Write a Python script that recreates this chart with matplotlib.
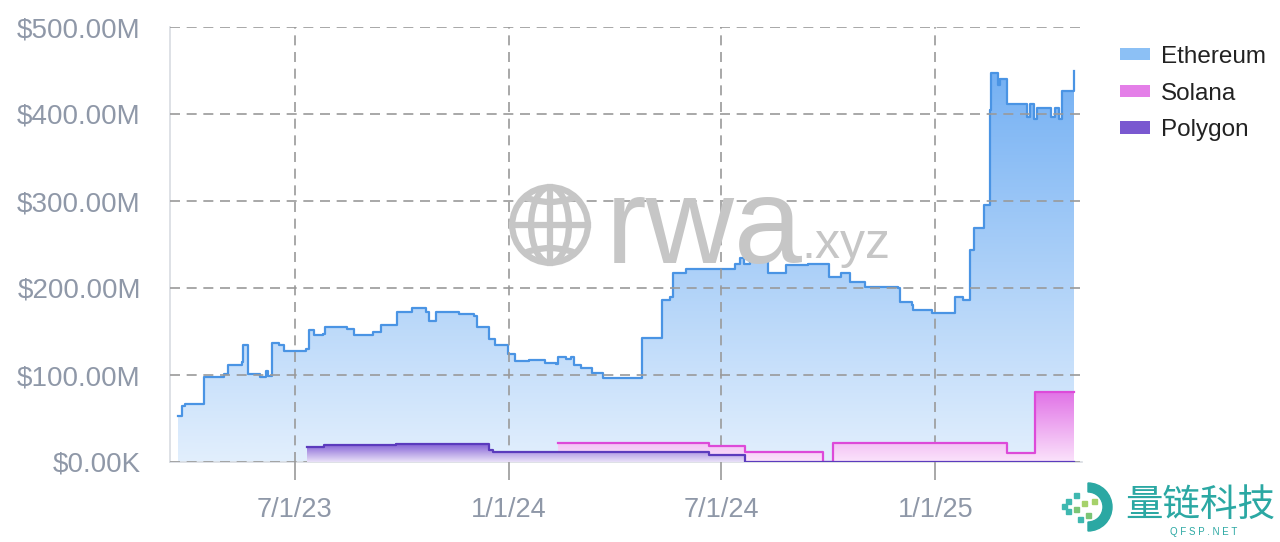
import numpy as np
import pandas as pd
import matplotlib
matplotlib.use("Agg")
import matplotlib.pyplot as plt
import matplotlib.dates as mdates
from matplotlib.patches import PathPatch, Patch, Circle, Ellipse, Wedge, Rectangle
from matplotlib.colors import to_rgba

# ---- data (USD millions, step series) ----
eth_dates = ["2023-03-23", "2023-03-26", "2023-03-29", "2023-04-14", "2023-05-01", "2023-05-05",
             "2023-05-17", "2023-05-18", "2023-05-22", "2023-06-01", "2023-06-06", "2023-06-08",
             "2023-06-12", "2023-06-18", "2023-06-22", "2023-07-11", "2023-07-13", "2023-07-18",
             "2023-07-25", "2023-07-27", "2023-08-15", "2023-08-21", "2023-09-06", "2023-09-13",
             "2023-09-25", "2023-09-27", "2023-10-10", "2023-10-22", "2023-10-24", "2023-10-30",
             "2023-11-19", "2023-12-02", "2023-12-05", "2023-12-15", "2023-12-20", "2023-12-29",
             "2023-12-31", "2024-01-06", "2024-01-18", "2024-02-01", "2024-02-10", "2024-02-12",
             "2024-02-19", "2024-02-23", "2024-02-26", "2024-03-03", "2024-03-12", "2024-03-22",
             "2024-04-24", "2024-05-11", "2024-05-18", "2024-05-21", "2024-06-01", "2024-07-13",
             "2024-07-17", "2024-07-21", "2024-07-26", "2024-08-10", "2024-08-26", "2024-09-14",
             "2024-10-02", "2024-10-12", "2024-10-20", "2024-11-02", "2024-11-30", "2024-12-02",
             "2024-12-12", "2024-12-13", "2024-12-29", "2025-01-18", "2025-01-25", "2025-01-31",
             "2025-02-03", "2025-02-12", "2025-02-17", "2025-02-18", "2025-02-24", "2025-02-26",
             "2025-03-04", "2025-03-21", "2025-03-23", "2025-03-27", "2025-03-29", "2025-04-10",
             "2025-04-14", "2025-04-17", "2025-04-20", "2025-04-30"]
eth_vals = [53, 64, 67, 98, 101, 111,
            115, 134, 101, 98, 105, 99,
            137, 134, 128, 130, 152, 146,
            147, 155, 153, 146, 150, 157,
            158, 172, 177, 172, 162, 172,
            170, 168, 155, 141, 135, 134,
            124, 116, 117, 114, 113, 121,
            118, 121, 112, 108, 102, 97,
            142, 186, 190, 217, 222, 228,
            234, 228, 232, 217, 226, 228,
            213, 217, 207, 201, 200, 184,
            180, 175, 171, 190, 186, 244,
            269, 295, 405, 447, 433, 440,
            412, 397, 411, 394, 407, 396,
            407, 394, 426, 449]

sol_dates = ["2024-02-12", "2024-06-21", "2024-07-22", "2024-09-27", "2024-10-05",
             "2025-03-04", "2025-03-28", "2025-04-30"]
sol_vals = [21.5, 18.8, 11, 0, 22, 10.7, 80, 80]

pol_dates = ["2023-07-12", "2023-07-26", "2023-09-26", "2023-12-15", "2023-12-18",
             "2024-06-21", "2024-07-22", "2025-04-30"]
pol_vals = [17.6, 19.5, 20.7, 13.8, 12, 8, 0.5, 0.5]

y_ticks = [0, 100, 200, 300, 400, 500]
y_labels = ["$0.00K", "$100.00M", "$200.00M", "$300.00M", "$400.00M", "$500.00M"]
x_ticks = ["2023-07-01", "2024-01-01", "2024-07-01", "2025-01-01"]
x_labels = ["7/1/23", "1/1/24", "7/1/24", "1/1/25"]

plt.rcParams["font.family"] = ["Liberation Sans", "DejaVu Sans"]
TICK_C = "#8f98a8"
GRID_C = "#9a9a9a"

fig = plt.figure(figsize=(12.8, 5.42), dpi=100)
ax = fig.add_axes([170 / 1280, 80 / 542, 912 / 1280, 435 / 542])


def to_num(ds):
    return mdates.date2num(pd.to_datetime(ds).to_pydatetime())


def grad_fill(x, y, top, bottom, ymax, z):
    poly = ax.fill_between(x, y, 0, step="post", color="none", lw=0)
    path = poly.get_paths()[0]
    poly.remove()
    patch = PathPatch(path, transform=ax.transData, facecolor="none", edgecolor="none")
    ax.add_patch(patch)
    t = np.linspace(0, 1, 256)[:, None]
    c0, c1 = np.array(to_rgba(bottom)), np.array(to_rgba(top))
    img = (c0 * (1 - t) + c1 * t)[:, None, :]
    im = ax.imshow(img, extent=[x.min(), x.max(), 0, ymax], origin="lower",
                   aspect="auto", zorder=z, interpolation="bilinear")
    im.set_clip_path(patch)


ex, sx, px = to_num(eth_dates), to_num(sol_dates), to_num(pol_dates)

grad_fill(ex, np.array(eth_vals), "#72aff3", "#e2effd", 460, 1)
ax.plot(ex, eth_vals, drawstyle="steps-post", color="#4a94e4", lw=1.6, zorder=2)
grad_fill(sx, np.array(sol_vals), "#e070e6", "#fbe3fb", 82, 3)
ax.plot(sx, sol_vals, drawstyle="steps-post", color="#dd4ad9", lw=1.6, zorder=4)
grad_fill(px, np.array(pol_vals), "#7a55d2", "#eae2f8", 22, 5)
ax.plot(px, pol_vals, drawstyle="steps-post", color="#5b3bbd", lw=1.6, zorder=6)

ax.set_xlim(to_num(["2023-03-16"])[0], to_num(["2025-05-07"])[0])
ax.set_ylim(0, 500)

ax.set_yticks(y_ticks)
ax.set_yticklabels(y_labels)
ax.set_xticks(to_num(x_ticks))
ax.set_xticklabels(x_labels)
ax.tick_params(axis="y", length=0, pad=21, labelsize=20, labelcolor=TICK_C)
ax.tick_params(axis="x", length=13, width=1.2, color=GRID_C, pad=12.5, labelsize=19.5,
               labelcolor=TICK_C)

ax.grid(True, color=GRID_C, linestyle=(0, (6, 4)), linewidth=1.2, zorder=0)
ax.set_axisbelow(False)
for gl in ax.get_xgridlines() + ax.get_ygridlines():
    gl.set_zorder(7)
for s in ["top", "right"]:
    ax.spines[s].set_visible(False)
for s in ["left", "bottom"]:
    ax.spines[s].set_color("#d8dce2")
    ax.spines[s].set_linewidth(1.2)

# watermark
wm = "#c6c6c6"
gx, gy, gr = 550 / 1280, (542 - 225) / 542, 42
aw = fig.add_axes([gx - gr / 1280, gy - gr / 542, 2 * gr / 1280, 2 * gr / 542])
aw.set_xlim(-1, 1); aw.set_ylim(-1, 1); aw.axis("off"); aw.patch.set_alpha(0)
ring = Circle((0, 0), 0.9, fill=False, ec=wm, lw=4.5)
aw.add_patch(ring)
inner = [Ellipse((0, 0), 0.9, 1.8, fill=False, ec=wm, lw=4.5),
         Ellipse((0, 1.25), 2.2, 1.4, fill=False, ec=wm, lw=4.5),
         Ellipse((0, -1.25), 2.2, 1.4, fill=False, ec=wm, lw=4.5)]
for p in inner:
    aw.add_patch(p)
    p.set_clip_path(ring)
aw.plot([0, 0], [-0.9, 0.9], color=wm, lw=4.5)
aw.plot([-0.9, 0.9], [0, 0], color=wm, lw=4.5)
fig.text(606 / 1280, (542 - 263) / 542, "rwa", fontsize=88, color=wm, ha="left",
         va="baseline", zorder=1)
fig.text(801 / 1280, (542 - 258) / 542, ".xyz", fontsize=36, color=wm, ha="left",
         va="baseline", zorder=1)

# legend
handles = [Patch(facecolor="#8cc0f5", edgecolor="none"),
           Patch(facecolor="#e47fe8", edgecolor="none"),
           Patch(facecolor="#7a58d0", edgecolor="none")]
fig.legend(handles, ["Ethereum", "Solana", "Polygon"], loc="upper left",
           bbox_to_anchor=(1120 / 1280, 1 - 46 / 542), frameon=False, fontsize=17.5,
           handlelength=1.25, handleheight=0.4, handletextpad=0.42, labelspacing=0.6,
           borderpad=0, borderaxespad=0, labelcolor="#222222")

# corner logo
teal = "#2ba8a3"
fig.text(1125 / 1280, 1 - 505 / 542, "量链科技", fontsize=27, color=teal, va="center",
         ha="left", family=["Noto Sans CJK SC", "DejaVu Sans"])
fig.text(1204 / 1280, 1 - 532 / 542, "Q F S P . N E T", fontsize=7, color=teal,
         va="center", ha="center")
lg = fig.add_axes([1058 / 1280, 1 - 532 / 542, 56 / 1280, 50 / 542])
lg.set_xlim(0, 56); lg.set_ylim(0, 50); lg.axis("off")
lg.add_patch(Wedge((30, 25), 24, -90, 90, width=9, color=teal))
for (sx_, sy_, c) in [(8, 28, "#3fb8b0"), (16, 34, "#3fb8b0"), (16, 20, "#7cc576"),
                      (24, 26, "#a6d16a"), (8, 18, "#3fb8b0"), (28, 14, "#7cc576"),
                      (34, 28, "#a6d16a"), (20, 10, "#3fb8b0"), (4, 23, "#3fb8b0")]:
    lg.add_patch(Rectangle((sx_, sy_), 5, 5, color=c))

fig.savefig("out.png", dpi=100)
